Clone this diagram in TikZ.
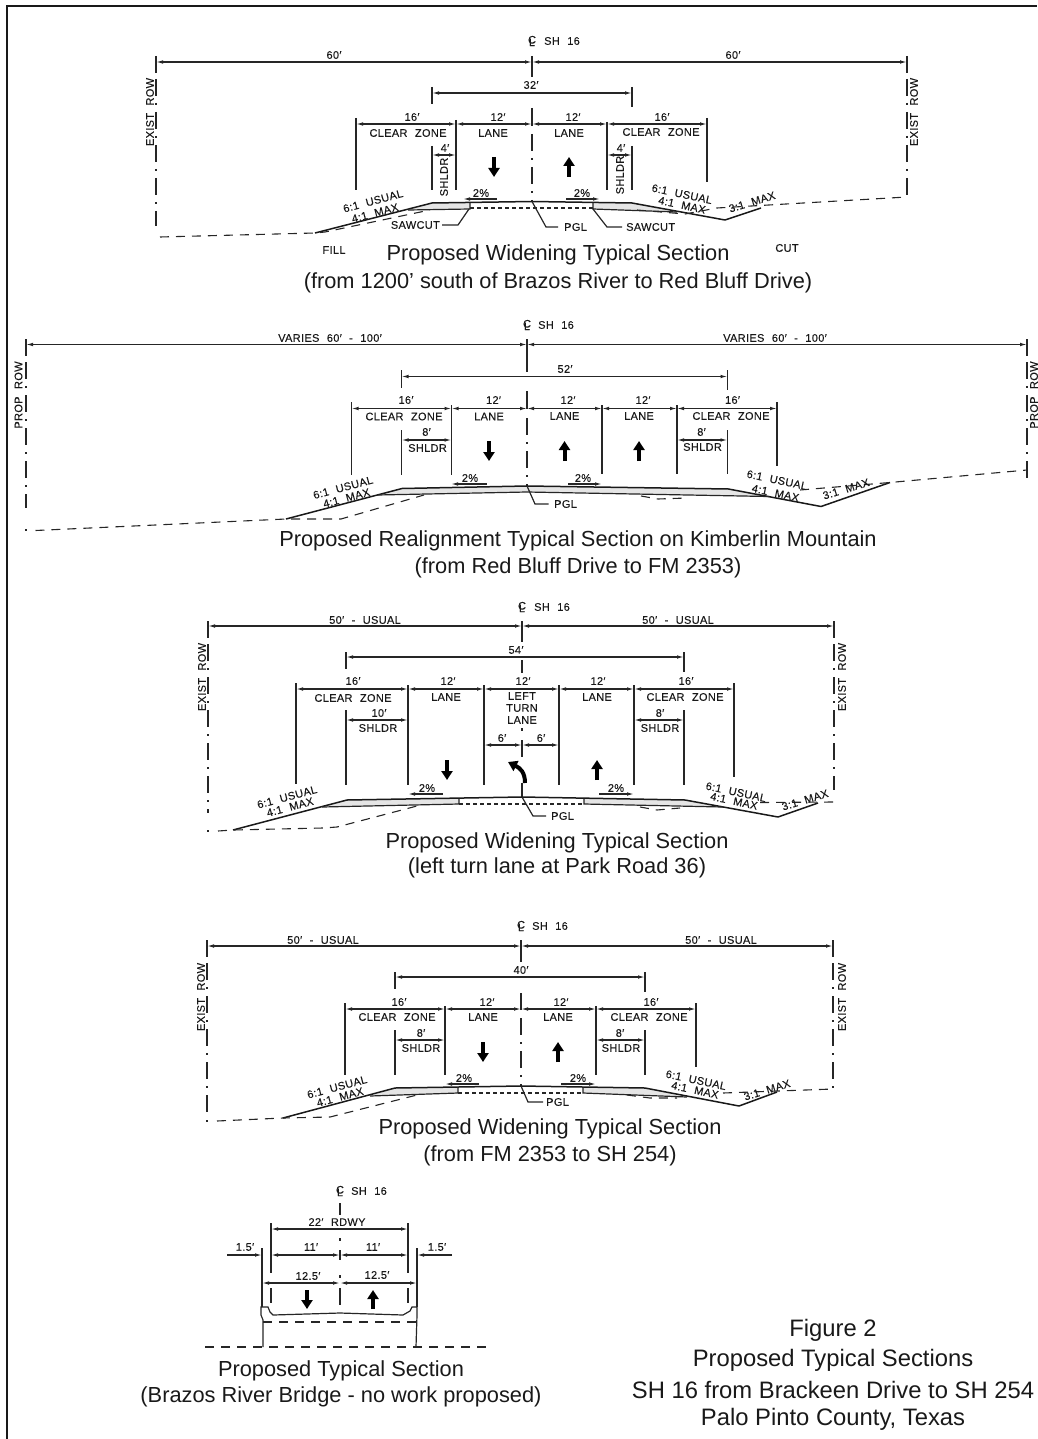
\documentclass[tikz,border=0pt]{standalone}
\usepackage{fontspec}
\usetikzlibrary{arrows.meta}
\setmainfont{Liberation Sans}
\newfontfamily\cadfont[LetterSpace=3,WordSpace=2.2,FakeBold=0.12]{Liberation Sans}
\newcommand{\clmark}{\makebox[0pt]{\raisebox{1pt}{C}}\makebox[0pt]{\raisebox{-1.5pt}{L}}}
\tikzset{
  cadlabel/.style={font=\cadfont\fontsize{11}{12}\selectfont,inner sep=0pt,text=black!90},
  captext/.style={font=\fontsize{21.8}{26}\selectfont,inner sep=0pt,text=black!90,yshift=-2pt},
  figtext/.style={font=\fontsize{23.8}{28}\selectfont,inner sep=0pt,text=black!90,yshift=-2pt},
  dimline/.style={line width=1.2pt,black!85,{Latex[length=7pt,width=3.6pt]}-{Latex[length=7pt,width=3.6pt]}},
  leftdim/.style={line width=1.2pt,black!85,-{Latex[length=7pt,width=3.6pt]}},
  tickline/.style={line width=1.2pt,black!85},
  rowline/.style={line width=1.2pt,black!85,dash pattern=on 17pt off 7pt on 2pt off 7pt},
  ground/.style={line width=1.1pt,black!85,dash pattern=on 9pt off 7pt},
  oldpave/.style={line width=1.1pt,black!85,dash pattern=on 4pt off 3pt},
  profile/.style={line width=1.5pt,black!90,line join=round},
  pavefill/.style={fill=black!10,draw=none},
  travel/.style={line width=4pt,black,-{Triangle[length=9pt,width=11pt]}},
}
\begin{document}
\begin{tikzpicture}[x=1pt,y=-1pt]
\useasboundingbox (0,0) rectangle (1037,1439);
\draw [line width=2pt,black!90] (7,1439) -- (7,6) -- (1037,6);

% first section
\node [cadlabel](aCl) at (532,41) {\clmark};
\node [cadlabel](aSh) at (562,41) {SH 16};
\draw [tickline] (156,56) -- (156,73);
\draw [rowline] (156,79) -- (156,226);
\draw [tickline] (907,56) -- (907,73);
\draw [rowline] (907,79) -- (907,197);
\node [cadlabel,rotate=90](aRowL) at (150,112) {EXIST ROW};
\node [cadlabel,rotate=90](aRowR) at (914,112) {EXIST ROW};
\draw [dimline] (156,62) -- (532,62);
\draw [dimline] (532,62) -- (907,62);
\node [cadlabel](aOutL) at (334,55) {60′};
\node [cadlabel](aOutR) at (733,55) {60′};
\draw [tickline] (532,56) -- (532,77);
\draw [dimline] (432,93) -- (632,93);
\node [cadlabel](aTop) at (531,85) {32′};
\draw [tickline] (432,87) -- (432,104);
\draw [tickline] (632,87) -- (632,107);
\draw [tickline] (532,108) -- (532,126);
\draw [rowline] (532,134) -- (532,202);
\draw [dimline] (356,124) -- (456,124);
\draw [dimline] (456,124) -- (532,124);
\draw [dimline] (532,124) -- (607,124);
\draw [dimline] (607,124) -- (707,124);
\draw [tickline] (356,118) -- (356,190);
\draw [tickline] (456,120) -- (456,190);
\draw [tickline] (607,122) -- (607,190);
\draw [tickline] (707,118) -- (707,182);
\node [cadlabel](aCzL) at (412,117) {16′};
\node [cadlabel](aCzLt) at (408,133) {CLEAR ZONE};
\node [cadlabel](aLnL) at (498,117) {12′};
\node [cadlabel](aLnLt) at (493,133) {LANE};
\node [cadlabel](aLnR) at (573,117) {12′};
\node [cadlabel](aLnRt) at (569,133) {LANE};
\node [cadlabel](aCzR) at (662,117) {16′};
\node [cadlabel](aCzRt) at (661,132) {CLEAR ZONE};
\draw [tickline] (432,146) -- (432,190);
\draw [tickline] (632,146) -- (632,190);
\draw [dimline] (432,155) -- (456,155);
\draw [dimline] (607,155) -- (632,155);
\node [cadlabel](aShL) at (445,148) {4′};
\node [cadlabel](aShR) at (621,148) {4′};
\node [cadlabel,rotate=90](aShLt) at (444,177) {SHLDR};
\node [cadlabel,rotate=90](aShRt) at (620,175) {SHLDR};
\draw [travel] (494,157) -- (494,177);
\draw [travel] (569,177) -- (569,157);
\node [cadlabel](aPcL) at (481,193) {2\%};
\node [cadlabel](aPcR) at (582,193) {2\%};
\draw [leftdim] (497,199) -- (463,199);
\draw [leftdim] (566,199) -- (600,199);
\path [pavefill] (408,210) -- (432,203) -- (470,203) -- (470,209) -- cycle;
\path [pavefill] (593,203) -- (632,203) -- (677,212) -- (593,209) -- cycle;
\draw [profile] (315,233) -- (432,203) -- (532,201.5) -- (632,203) -- (725,220) -- (761,208);
\draw [tickline] (408,210) -- (470,209) -- (470,203);
\draw [tickline] (593,203) -- (593,209) -- (677,212);
\draw [oldpave] (470,208) -- (593,208);
\draw [ground] (160,237) -- (315,233) -- (325,232) -- (430,210);
\draw [ground] (637,210) -- (685,214) -- (717,208) -- (907,197);
\draw [tickline] (532,201.5) -- (546,227) -- (558,227);
\node [cadlabel,anchor=west](aPgl) at (564,227) {PGL};
\draw [tickline] (593,209) -- (607,227) -- (622,227);
\node [cadlabel,anchor=west](aSawR) at (626,227) {SAWCUT};
\node [cadlabel,anchor=east](aSawL) at (440,225) {SAWCUT};
\draw [tickline] (442,225) -- (458,225) -- (469,209);
\node [cadlabel,rotate=15](aSlA) at (373,201) {6:1 USUAL};
\node [cadlabel,rotate=15](aSlB) at (375,213) {4:1 MAX};
\node [cadlabel,rotate=-12](aSlC) at (682,194) {6:1 USUAL};
\node [cadlabel,rotate=-12](aSlD) at (682,205) {4:1 MAX};
\node [cadlabel,rotate=17](aSlE) at (752,202) {3:1 MAX};
\node [cadlabel](aFill) at (334,250) {FILL};
\node [cadlabel](aCut) at (787,248) {CUT};
\node [captext](aCapA) at (558,253) {Proposed Widening Typical Section};
\node [captext](aCapB) at (558,281) {(from 1200’ south of Brazos River to Red Bluff Drive)};

% second section
\node [cadlabel](bCl) at (527,325) {\clmark};
\node [cadlabel](bSh) at (556,325) {SH 16};
\draw [tickline] (26,339) -- (26,356);
\draw [rowline] (26,362) -- (26,508);
\draw [tickline] (26,529) -- (26,531);
\draw [tickline] (1027,339) -- (1027,356);
\draw [rowline] (1027,362) -- (1027,482);
\node [cadlabel,rotate=90](bRowL) at (18.5,395) {PROP ROW};
\node [cadlabel,rotate=90](bRowR) at (1034,395) {PROP ROW};
\draw [dimline] (26,344.5) -- (527,344.5);
\draw [dimline] (527,344.5) -- (1027,344.5);
\node [cadlabel](bOutL) at (330,338) {VARIES 60′ - 100′};
\node [cadlabel](bOutR) at (775,338) {VARIES 60′ - 100′};
\draw [tickline] (527,339) -- (527,372);
\draw [dimline] (401.5,376.5) -- (727.5,376.5);
\node [cadlabel](bTop) at (565,369) {52′};
\draw [tickline] (401.5,370) -- (401.5,388);
\draw [tickline] (727.5,370) -- (727.5,390);
\draw [tickline] (527,391) -- (527,409);
\draw [rowline] (527,418) -- (527,486);
\draw [dimline] (351.5,408.5) -- (451.5,408.5);
\draw [dimline] (451.5,408.5) -- (527,408.5);
\draw [dimline] (527,408.5) -- (602,408.5);
\draw [dimline] (602,408.5) -- (677,408.5);
\draw [dimline] (677,408.5) -- (777,408.5);
\draw [tickline] (351.5,402) -- (351.5,475);
\draw [tickline] (451.5,405) -- (451.5,475);
\draw [tickline] (602,405) -- (602,474);
\draw [tickline] (677,405) -- (677,474);
\draw [tickline] (777,402) -- (777,466);
\node [cadlabel](bCzL) at (406,400) {16′};
\node [cadlabel](bCzLt) at (404,416.5) {CLEAR ZONE};
\node [cadlabel](bLnA) at (493.5,400) {12′};
\node [cadlabel](bLnAt) at (489,416.5) {LANE};
\node [cadlabel](bLnB) at (568,400) {12′};
\node [cadlabel](bLnBt) at (564.5,416) {LANE};
\node [cadlabel](bLnC) at (643,400) {12′};
\node [cadlabel](bLnCt) at (639,416) {LANE};
\node [cadlabel](bCzR) at (732.5,400) {16′};
\node [cadlabel](bCzRt) at (731,416) {CLEAR ZONE};
\draw [tickline] (401.5,430) -- (401.5,475);
\draw [tickline] (727.5,430) -- (727.5,474);
\draw [dimline] (401.5,440) -- (451.5,440);
\draw [dimline] (677,440) -- (727.5,440);
\node [cadlabel](bShL) at (426.5,432) {8′};
\node [cadlabel](bShLt) at (427.5,448) {SHLDR};
\node [cadlabel](bShR) at (701.5,432) {8′};
\node [cadlabel](bShRt) at (702.5,447) {SHLDR};
\draw [travel] (489,441) -- (489,461);
\draw [travel] (564.5,461) -- (564.5,441);
\draw [travel] (639,461) -- (639,441);
\node [cadlabel](bPcL) at (470,478) {2\%};
\node [cadlabel](bPcR) at (583,478) {2\%};
\draw [leftdim] (487,484) -- (451,484);
\draw [leftdim] (568,484) -- (602,484);
\path [pavefill] (377,495) -- (402,488.5) -- (527,486) -- (728.5,489) -- (769,496.5) -- (527,492) -- cycle;
\draw [profile] (286,519) -- (402,488.5) -- (527,486) -- (728.5,489) -- (821,506.5) -- (890,482.5);
\draw [tickline] (377,495) -- (527,492) -- (769,496.5);
\draw [ground] (35.5,530.5) -- (286,519) -- (341,519) -- (424,495);
\draw [ground] (641,496) -- (658,499) -- (686.5,498);
\draw [ground] (800,490) -- (890,482.5) -- (1027,470);
\draw [tickline] (527,486) -- (535,504) -- (548.5,504);
\node [cadlabel,anchor=west](bPgl) at (554,504) {PGL};
\node [cadlabel,rotate=15](bSlA) at (343,487.5) {6:1 USUAL};
\node [cadlabel,rotate=15](bSlB) at (346.5,498) {4:1 MAX};
\node [cadlabel,rotate=-12](bSlC) at (777,480) {6:1 USUAL};
\node [cadlabel,rotate=-12](bSlD) at (775.5,493) {4:1 MAX};
\node [cadlabel,rotate=17](bSlE) at (846,489) {3:1 MAX};
\node [captext](bCapA) at (578,539) {Proposed Realignment Typical Section on Kimberlin Mountain};
\node [captext](bCapB) at (578,566) {(from Red Bluff Drive to FM 2353)};

% third section
\node [cadlabel](cCl) at (522,607) {\clmark};
\node [cadlabel](cSh) at (552,607) {SH 16};
\draw [tickline] (208,621) -- (208,638);
\draw [rowline] (208,644) -- (208,813);
\draw [tickline] (208,830) -- (208,832);
\draw [tickline] (834,621) -- (834,638);
\draw [rowline] (834,644) -- (834,790);
\node [cadlabel,rotate=90](cRowL) at (202,677) {EXIST ROW};
\node [cadlabel,rotate=90](cRowR) at (842,677) {EXIST ROW};
\draw [dimline] (208,626) -- (522,626);
\draw [dimline] (522,626) -- (834,626);
\node [cadlabel](cOutL) at (365,620) {50′ - USUAL};
\node [cadlabel](cOutR) at (678,620) {50′ - USUAL};
\draw [tickline] (522,621) -- (522,642);
\draw [dimline] (346,657) -- (684,657);
\node [cadlabel](cTop) at (516,650) {54′};
\draw [tickline] (346,652) -- (346,669);
\draw [tickline] (684,652) -- (684,672);
\draw [tickline] (522,660) -- (522,673);
\draw [dimline] (296,689) -- (408,689);
\draw [dimline] (408,689) -- (484,689);
\draw [dimline] (484,689) -- (559,689);
\draw [dimline] (559,689) -- (634,689);
\draw [dimline] (634,689) -- (734,689);
\draw [tickline] (296,683) -- (296,784);
\draw [tickline] (408,685) -- (408,785);
\draw [tickline] (484,685) -- (484,785);
\draw [tickline] (559,685) -- (559,785);
\draw [tickline] (634,685) -- (634,785);
\draw [tickline] (734,683) -- (734,777);
\node [cadlabel](cCzL) at (353,681) {16′};
\node [cadlabel](cCzLt) at (353,698) {CLEAR ZONE};
\node [cadlabel](cLnA) at (448,681) {12′};
\node [cadlabel](cLnAt) at (446,697) {LANE};
\node [cadlabel](cLnB) at (523,681) {12′};
\node [cadlabel](cLnBa) at (522,696) {LEFT};
\node [cadlabel](cLnBb) at (522,708) {TURN};
\node [cadlabel](cLnBc) at (522,720) {LANE};
\node [cadlabel](cLnC) at (598,681) {12′};
\node [cadlabel](cLnCt) at (597,697) {LANE};
\node [cadlabel](cCzR) at (686,681) {16′};
\node [cadlabel](cCzRt) at (685,697) {CLEAR ZONE};
\draw [tickline] (522,728) -- (522,731);
\draw [tickline] (522,740) -- (522,757);
\draw [dimline] (484,745) -- (522,745);
\draw [dimline] (522,745) -- (559,745);
\node [cadlabel](cSixL) at (502,738) {6′};
\node [cadlabel](cSixR) at (541,738) {6′};
\draw [tickline] (346,710) -- (346,785);
\draw [tickline] (684,710) -- (684,785);
\draw [dimline] (346,720) -- (408,720);
\draw [dimline] (634,720) -- (684,720);
\node [cadlabel](cShL) at (379,713) {10′};
\node [cadlabel](cShLt) at (378,728) {SHLDR};
\node [cadlabel](cShR) at (660,713) {8′};
\node [cadlabel](cShRt) at (660,728) {SHLDR};
\draw [travel] (447,760) -- (447,780);
\draw [travel] (597,780) -- (597,760);
\draw [travel] (525,783) .. controls (525,772) and (520,768) .. (508,762);
\draw [tickline] (522,783) -- (522,797);
\node [cadlabel](cPcL) at (427,788) {2\%};
\node [cadlabel](cPcR) at (616,788) {2\%};
\draw [leftdim] (443,794) -- (408,794);
\draw [leftdim] (599,794) -- (634,794);
\path [pavefill] (322,807) -- (347,800) -- (459,798.5) -- (459,804) -- cycle;
\path [pavefill] (584,798.5) -- (685,800) -- (723,807) -- (584,804) -- cycle;
\draw [profile] (233,830) -- (347,800) -- (522,797) -- (685,800) -- (778,817) -- (818,803);
\draw [tickline] (322,807) -- (459,804) -- (459,798.5);
\draw [tickline] (584,798.5) -- (584,804) -- (723,807);
\draw [oldpave] (459,804) -- (584,804);
\draw [ground] (218,831) -- (233,830) -- (323,828) -- (337,827) -- (417,806);
\draw [ground] (640,807) -- (657,810) -- (680,808);
\draw [ground] (760,802.5) -- (834,802);
\draw [tickline] (522,797) -- (533,816) -- (546,816);
\node [cadlabel,anchor=west](cPgl) at (551,816) {PGL};
\node [cadlabel,rotate=15](cSlA) at (287,797) {6:1 USUAL};
\node [cadlabel,rotate=15](cSlB) at (290,807) {4:1 MAX};
\node [cadlabel,rotate=-12](cSlC) at (736,792) {6:1 USUAL};
\node [cadlabel,rotate=-12](cSlD) at (734,801) {4:1 MAX};
\node [cadlabel,rotate=17](cSlE) at (805,800) {3:1 MAX};
\node [captext](cCapA) at (557,841) {Proposed Widening Typical Section};
\node [captext](cCapB) at (557,866) {(left turn lane at Park Road 36)};

% fourth section
\node [cadlabel](dCl) at (521,926) {\clmark};
\node [cadlabel](dSh) at (550,926) {SH 16};
\draw [tickline] (207,940) -- (207,957);
\draw [rowline] (207,963) -- (207,1112);
\draw [tickline] (207,1120) -- (207,1122);
\draw [tickline] (833,940) -- (833,957);
\draw [rowline] (833,963) -- (833,1088);
\node [cadlabel,rotate=90](dRowL) at (201,997) {EXIST ROW};
\node [cadlabel,rotate=90](dRowR) at (842,997) {EXIST ROW};
\draw [dimline] (207,946) -- (521,946);
\draw [dimline] (521,946) -- (833,946);
\node [cadlabel](dOutL) at (323,940) {50′ - USUAL};
\node [cadlabel](dOutR) at (721,940) {50′ - USUAL};
\draw [tickline] (521,940) -- (521,962);
\draw [dimline] (395,977) -- (645,977);
\node [cadlabel](dTop) at (521,970) {40′};
\draw [tickline] (395,972) -- (395,989);
\draw [tickline] (645,972) -- (645,992);
\draw [tickline] (521,993) -- (521,1010);
\draw [rowline] (521,1018) -- (521,1087);
\draw [dimline] (345,1009) -- (445,1009);
\draw [dimline] (445,1009) -- (521,1009);
\draw [dimline] (521,1009) -- (596,1009);
\draw [dimline] (596,1009) -- (696,1009);
\draw [tickline] (345,1003) -- (345,1075);
\draw [tickline] (445,1006) -- (445,1075);
\draw [tickline] (596,1006) -- (596,1075);
\draw [tickline] (696,1003) -- (696,1067);
\node [cadlabel](dCzL) at (399,1002) {16′};
\node [cadlabel](dCzLt) at (397,1017) {CLEAR ZONE};
\node [cadlabel](dLnL) at (487,1002) {12′};
\node [cadlabel](dLnLt) at (483,1017) {LANE};
\node [cadlabel](dLnR) at (561,1002) {12′};
\node [cadlabel](dLnRt) at (558,1017) {LANE};
\node [cadlabel](dCzR) at (651,1002) {16′};
\node [cadlabel](dCzRt) at (649,1017) {CLEAR ZONE};
\draw [tickline] (395,1030) -- (395,1075);
\draw [tickline] (645,1030) -- (645,1075);
\draw [dimline] (395,1040) -- (445,1040);
\draw [dimline] (596,1040) -- (645,1040);
\node [cadlabel](dShL) at (421,1033) {8′};
\node [cadlabel](dShLt) at (421,1048) {SHLDR};
\node [cadlabel](dShR) at (620,1033) {8′};
\node [cadlabel](dShRt) at (621,1048) {SHLDR};
\draw [travel] (483,1042) -- (483,1062);
\draw [travel] (558,1062) -- (558,1042);
\node [cadlabel](dPcL) at (464,1078) {2\%};
\node [cadlabel](dPcR) at (578,1078) {2\%};
\draw [leftdim] (479,1084) -- (445,1084);
\draw [leftdim] (561,1084) -- (596,1084);
\path [pavefill] (370,1096) -- (395,1088) -- (458,1087) -- (458,1093) -- cycle;
\path [pavefill] (583,1087) -- (645,1088) -- (687,1097) -- (583,1093) -- cycle;
\draw [profile] (283,1118) -- (395,1088) -- (521,1086) -- (645,1088) -- (739,1106) -- (777,1092);
\draw [tickline] (370,1096) -- (458,1093) -- (458,1087);
\draw [tickline] (583,1087) -- (583,1093) -- (687,1097);
\draw [oldpave] (458,1093) -- (583,1093);
\draw [ground] (217,1121) -- (283,1118) -- (330,1117) -- (417,1095);
\draw [ground] (627,1095) -- (650,1098) -- (677,1098);
\draw [ground] (723,1093) -- (833,1089);
\draw [tickline] (521,1086) -- (528,1102) -- (543,1102);
\node [cadlabel,anchor=west](dPgl) at (546,1102) {PGL};
\node [cadlabel,rotate=15](dSlA) at (337,1087) {6:1 USUAL};
\node [cadlabel,rotate=15](dSlB) at (340,1097) {4:1 MAX};
\node [cadlabel,rotate=-12](dSlC) at (696,1080) {6:1 USUAL};
\node [cadlabel,rotate=-12](dSlD) at (695,1090) {4:1 MAX};
\node [cadlabel,rotate=17](dSlE) at (767,1090) {3:1 MAX};
\node [captext](dCapA) at (550,1127) {Proposed Widening Typical Section};
\node [captext](dCapB) at (550,1154) {(from FM 2353 to SH 254)};

% bridge section
\node [cadlabel](eCl) at (340,1191) {\clmark};
\node [cadlabel](eSh) at (369,1191) {SH 16};
\draw [tickline] (340,1203) -- (340,1215);
\draw [tickline] (340,1238) -- (340,1241);
\draw [tickline] (340,1250) -- (340,1260);
\draw [tickline] (340,1275) -- (340,1278);
\draw [tickline] (340,1288) -- (340,1305);
\node [cadlabel](eRd) at (337,1222) {22′ RDWY};
\draw [dimline] (271,1229) -- (408,1229);
\draw [tickline] (271,1223) -- (271,1273);
\draw [tickline] (408,1223) -- (408,1273);
\draw [tickline] (271,1288) -- (271,1303);
\draw [tickline] (408,1288) -- (408,1303);
\draw [dimline] (271,1255) -- (340,1255);
\draw [dimline] (340,1255) -- (408,1255);
\node [cadlabel](eElL) at (311,1247) {11′};
\node [cadlabel](eElR) at (373,1247) {11′};
\draw [dimline] (262,1283) -- (340,1283);
\draw [dimline] (340,1283) -- (417,1283);
\node [cadlabel](eTwL) at (308,1276) {12.5′};
\node [cadlabel](eTwR) at (377,1275) {12.5′};
\draw [tickline] (262,1248) -- (262,1307);
\draw [tickline] (417,1248) -- (417,1307);
\draw [leftdim] (227,1255) -- (262,1255);
\draw [leftdim] (452,1255) -- (417,1255);
\node [cadlabel](eOhL) at (245,1247) {1.5′};
\node [cadlabel](eOhR) at (437,1247) {1.5′};
\draw [travel] (307,1290) -- (307,1309);
\draw [travel] (373,1309) -- (373,1290);
\draw [tickline] (263,1347) -- (263,1320) -- (261,1315) -- (261,1307) -- (268,1307) -- (270,1312) -- (273,1315) -- (340,1313) -- (403,1315) -- (410,1311) -- (412,1307) -- (417,1307) -- (417,1315) -- (416,1347);
\draw [ground] (263,1322) -- (416,1322);
\draw [ground] (205,1347) -- (487,1347);
\node [captext](eCapA) at (341,1369) {Proposed Typical Section};
\node [captext](eCapB) at (341,1395) {(Brazos River Bridge - no work proposed)};

% figure title
\node [figtext](figA) at (833,1328) {Figure 2};
\node [figtext](figB) at (833,1358) {Proposed Typical Sections};
\node [figtext](figC) at (833,1388) {SH 16 from Brackeen Drive to SH 254};
\node [figtext](figD) at (833,1417) {Palo Pinto County, Texas};
\end{tikzpicture}
\end{document}
